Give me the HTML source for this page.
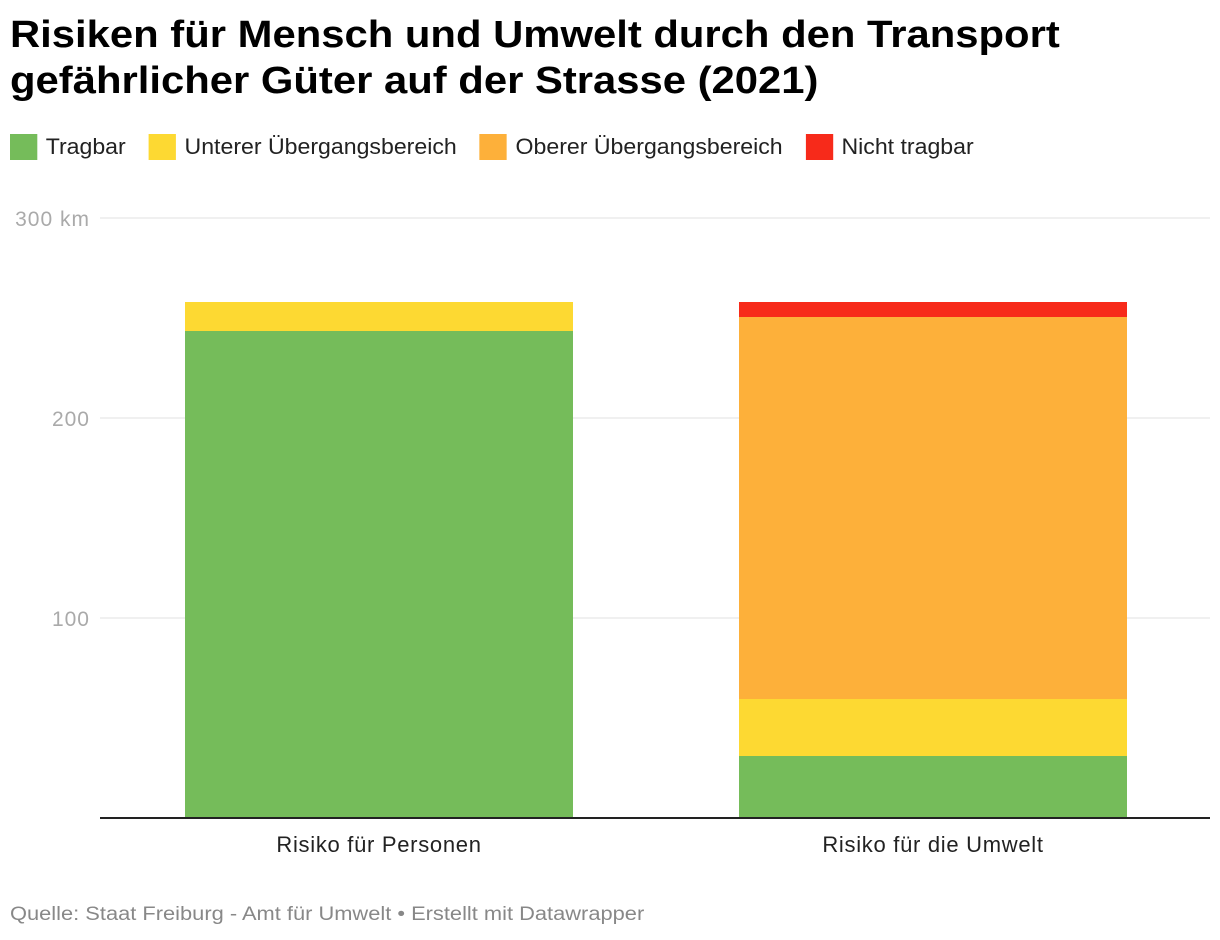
<!DOCTYPE html>
<html><head><meta charset="utf-8"><style>
body{margin:0;background:#fff;font-family:"Liberation Sans",sans-serif;width:1220px;height:940px;overflow:hidden;position:relative}
h1{position:absolute;left:10px;top:12px;margin:0;font-size:38px;line-height:46px;font-weight:bold;color:#000;letter-spacing:0;transform:scaleX(1.1);transform-origin:left top;white-space:nowrap}
.legend{position:absolute;left:10px;top:134px;display:flex;font-size:22px;color:#222;transform:scaleX(1.05);transform-origin:left top;white-space:nowrap}
.li{display:flex;align-items:center;margin-right:22px}
.sw{width:26px;height:26px;margin-right:8px}
.src{position:absolute;left:10px;top:904px;font-size:19px;color:#888;transform:scaleX(1.15);transform-origin:left top;white-space:nowrap}
</style></head><body>
<h1>Risiken für Mensch und Umwelt durch den Transport<br>gefährlicher Güter auf der Strasse (2021)</h1>
<div class="legend">
<div class="li"><div class="sw" style="background:#75bc5a"></div>Tragbar</div>
<div class="li"><div class="sw" style="background:#fdd932"></div>Unterer Übergangsbereich</div>
<div class="li"><div class="sw" style="background:#fdb03a"></div>Oberer Übergangsbereich</div>
<div class="li"><div class="sw" style="background:#f72a1a"></div>Nicht tragbar</div>
</div>
<svg id="chart" width="1220" height="940" style="position:absolute;left:0;top:0"></svg>
<div class="src">Quelle: Staat Freiburg - Amt für Umwelt • Erstellt mit Datawrapper</div>
<script>
const categories=["Risiko für Personen","Risiko für die Umwelt"];
const tragbar=[243.5,31];
const unterer=[14.5,28.5];
const oberer=[0,191];
const nicht=[0,7.5];
const ticks=[100,200,300];
const tickLabels=["100","200","300 km"];
const colors=["#75bc5a","#fdd932","#fdb03a","#f72a1a"];
const svg=document.getElementById('chart');const NS="http://www.w3.org/2000/svg";
const y=v=>818-v*2;
const bandX=i=>185+i*554;const bw=388;
function mk(t,a){const e=document.createElementNS(NS,t);for(const k in a)e.setAttribute(k,a[k]);svg.appendChild(e);return e;}
ticks.forEach((t,i)=>{
 const l=mk('line',{x1:100,x2:1210,y1:y(t),y2:y(t),stroke:'#e0e0e0','stroke-width':1});
 
 
 const tx=mk('text',{x:90,y:y(t)+8,'text-anchor':'end','font-size':21,'letter-spacing':1,fill:'#aaa','font-family':'Liberation Sans, sans-serif'});
 tx.textContent=tickLabels[i];
 
 
});
const series=[tragbar,unterer,oberer,nicht];const sn=['tragbar','unterer','oberer','nicht-tragbar'];
categories.forEach((c,i)=>{
 let base=0;
 series.forEach((s,j)=>{
  const v=s[i];if(v<=0)return;
  const r=mk('rect',{x:bandX(i),y:y(base+v),width:bw,height:v*2,fill:colors[j]});
  
  
  base+=v;
 });
 const t=mk('text',{x:bandX(i)+bw/2,y:852,'text-anchor':'middle','font-size':22,'letter-spacing':0.7,fill:'#222','font-family':'Liberation Sans, sans-serif'});
 t.textContent=c;
 
 
});
const ax=mk('line',{x1:100,x2:1210,y1:818,y2:818,stroke:'#222','stroke-width':2});


</script>
</body></html>
